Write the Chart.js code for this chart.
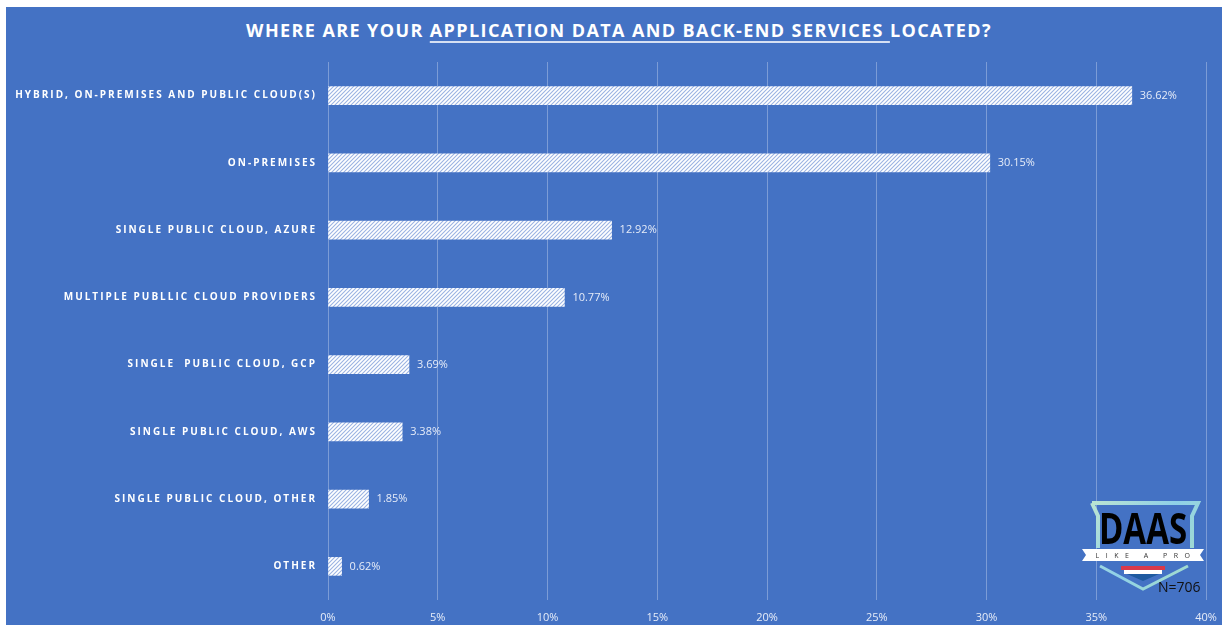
<!DOCTYPE html>
<html>
<head>
<meta charset="utf-8">
<script src="https://cdn.jsdelivr.net/npm/chart.js@4.4.1/dist/chart.umd.min.js"></script>
<style>
    html, body { margin: 0; padding: 0; background: #ffffff; }
    #wrap { position: relative; width: 1228px; height: 630px; overflow: hidden; }
    #panel { position: absolute; left: 6px; top: 7px; width: 1216px; height: 618px; background: #4472C4; }
    #title {
        position: absolute; left: 0; top: 18px; width: 1238px; text-align: center;
        font: bold 18px "Open Sans", sans-serif; letter-spacing: 1.4px; color: #ffffff;
    }
    #title u { text-decoration-thickness: 2px; text-underline-offset: 4px; text-decoration-color: #d6e0f3; }
    canvas { position: absolute; left: 0; top: 0; }
</style>
</head>
<body>
<div id="wrap">
    <div id="panel"></div>
    <div id="title">WHERE ARE YOUR <u>APPLICATION DATA AND BACK-END SERVICES </u>LOCATED?</div>
    <canvas id="locationChart" width="1228" height="630"></canvas>
</div>
<script>
const categories = [
    'HYBRID, ON-PREMISES AND PUBLIC CLOUD(S)',
    'ON-PREMISES',
    'SINGLE PUBLIC CLOUD, AZURE',
    'MULTIPLE PUBLLIC CLOUD PROVIDERS',
    'SINGLE  PUBLIC CLOUD, GCP',
    'SINGLE PUBLIC CLOUD, AWS',
    'SINGLE PUBLIC CLOUD, OTHER',
    'OTHER'
];
const percentages = [36.62, 30.15, 12.92, 10.77, 3.69, 3.38, 1.85, 0.62];
const sampleLabel = 'N=706';

document.addEventListener("DOMContentLoaded", function() {
    const ctx = document.getElementById('locationChart').getContext('2d');

    // diagonal hatch fill like the original
    function makeHatch() {
        const p = document.createElement('canvas');
        p.width = 4; p.height = 4;
        const c = p.getContext('2d');
        c.fillStyle = '#ffffff';
        c.fillRect(0, 0, 4, 4);
        c.strokeStyle = '#9bb3e2';
        c.lineWidth = 1.1;
        c.beginPath();
        c.moveTo(-1, 5); c.lineTo(5, -1);
        c.moveTo(-1, 1); c.lineTo(1, -1);
        c.moveTo(3, 5); c.lineTo(5, 3);
        c.stroke();
        return ctx.createPattern(p, 'repeat');
    }

    const labelPlugin = {
        id: 'labels',
        afterDatasetsDraw(chart) {
            const c = chart.ctx;
            const y = chart.scales.y;
            const meta = chart.getDatasetMeta(0);
            c.save();
            // category labels, spaced out
            c.font = 'bold 10px "Open Sans", sans-serif';
            c.letterSpacing = '2px';
            c.fillStyle = '#ffffff';
            c.textAlign = 'right';
            c.textBaseline = 'middle';
            categories.forEach((cat, i) => {
                c.fillText(cat, chart.chartArea.left - 11, y.getPixelForValue(i));
            });
            // value labels
            c.letterSpacing = '0px';
            c.font = '11px "Open Sans", sans-serif';
            c.fillStyle = '#e6ecf8';
            c.textAlign = 'left';
            meta.data.forEach((bar, i) => {
                c.fillText(percentages[i].toFixed(2) + '%', bar.x + 8, bar.y);
            });
            c.restore();
        },
        afterDraw(chart) {
            // DAAS logo badge
            const c = chart.ctx;
            c.save();
            const g = c.createLinearGradient(1086, 500, 1200, 590);
            g.addColorStop(0, '#bfe6d0');
            g.addColorStop(0.5, '#8fd0e8');
            g.addColorStop(1, '#a9e0c4');
            c.strokeStyle = g;
            c.lineWidth = 4;
            c.beginPath();
            c.moveTo(1092, 503);
            c.lineTo(1198, 503);
            c.lineTo(1192, 516);
            c.lineTo(1192, 548);
            c.moveTo(1098, 548);
            c.lineTo(1098, 516);
            c.lineTo(1092, 503);
            c.stroke();
            c.lineWidth = 3;
            c.beginPath();
            c.moveTo(1100, 566);
            c.lineTo(1143, 589);
            c.lineTo(1188, 566);
            c.stroke();
            c.fillStyle = '#000000';
            c.font = 'bold 33px "Open Sans", sans-serif';
            c.textAlign = 'center';
            c.textBaseline = 'alphabetic';
            c.save();
            c.translate(1143, 544);
            c.scale(1, 1.3);
            c.fillText('DAAS', 0, 0);
            c.restore();
            // ribbon
            c.fillStyle = '#ffffff';
            c.beginPath();
            c.moveTo(1082, 549);
            c.lineTo(1204, 549);
            c.lineTo(1200, 555);
            c.lineTo(1204, 561);
            c.lineTo(1082, 561);
            c.lineTo(1086, 555);
            c.closePath();
            c.fill();
            c.fillStyle = '#333333';
            c.font = '7px "Open Sans", sans-serif';
            c.letterSpacing = '6.5px';
            c.textBaseline = 'middle';
            c.fillText('LIKE A PRO', 1146, 555.5);
            c.letterSpacing = '0px';
            // flag
            c.fillStyle = '#d9394a';
            c.fillRect(1121, 566, 44, 4);
            c.fillStyle = '#ffffff';
            c.fillRect(1124, 570, 38, 4);
            c.fillStyle = '#1f5aa0';
            c.beginPath();
            c.moveTo(1127, 574); c.lineTo(1159, 574); c.lineTo(1143, 581);
            c.closePath();
            c.fill();
            c.fillStyle = '#111111';
            c.font = '14px "Open Sans", sans-serif';
            c.textAlign = 'left';
            c.fillText(sampleLabel, 1158, 588);
            c.restore();
        }
    };

    let locationChart = new Chart(ctx, {
        type: 'bar',
        data: {
            labels: categories,
            datasets: [{
                label: 'Share',
                data: percentages,
                backgroundColor: makeHatch(),
                borderWidth: 0,
                barThickness: 18
            }]
        },
        options: {
            indexAxis: 'y',
            responsive: false,
            animation: false,
            layout: {
                padding: { left: 328, right: 22, top: 62, bottom: 0 }
            },
            plugins: {
                legend: { display: false },
                tooltip: { enabled: false }
            },
            scales: {
                x: {
                    min: 0,
                    max: 40,
                    afterFit: scale => { scale.height = 30; },
                    ticks: {
                        stepSize: 5,
                        padding: 11,
                        color: '#e6ecf8',
                        font: { family: '"Open Sans", sans-serif', size: 11 },
                        callback: v => v + '%'
                    },
                    grid: {
                        color: 'rgba(255, 255, 255, 0.3)',
                        lineWidth: 1,
                        drawTicks: false
                    },
                    border: { display: false }
                },
                y: {
                    afterFit: scale => { scale.width = 0; },
                    ticks: { display: false },
                    grid: { display: false },
                    border: { display: false }
                }
            }
        },
        plugins: [labelPlugin]
    });
});
</script>
</body>
</html>
